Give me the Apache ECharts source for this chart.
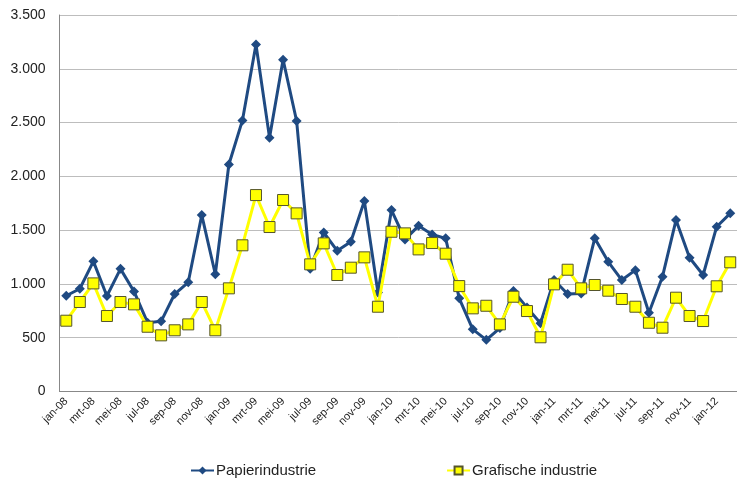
<!DOCTYPE html>
<html><head><meta charset="utf-8">
<script src="https://cdn.jsdelivr.net/npm/echarts@6/dist/echarts.min.js"></script>
<style>html,body{margin:0;padding:0;background:#fff}#c{width:737px;height:483px}</style>
</head><body><div id="c"></div>
<script>
const categories = ['jan-08','feb-08','mrt-08','apr-08','mei-08','jun-08','jul-08','aug-08','sep-08','okt-08','nov-08','dec-08',
'jan-09','feb-09','mrt-09','apr-09','mei-09','jun-09','jul-09','aug-09','sep-09','okt-09','nov-09','dec-09',
'jan-10','feb-10','mrt-10','apr-10','mei-10','jun-10','jul-10','aug-10','sep-10','okt-10','nov-10','dec-10',
'jan-11','feb-11','mrt-11','apr-11','mei-11','jun-11','jul-11','aug-11','sep-11','okt-11','nov-11','dec-11',
'jan-12','feb-12'];
const papierindustrie = [890,955,1210,888,1140,930,640,652,906,1015,1640,1090,
2110,2520,3225,2360,3085,2515,1140,1478,1308,1392,1770,920,
1687,1414,1540,1460,1424,866,578,480,590,934,780,634,
1036,906,912,1424,1206,1036,1128,732,1067,1594,1243,1083,
1532,1656];
const grafischeIndustrie = [658,832,1005,702,832,810,602,522,569,624,832,569,
959,1359,1826,1529,1780,1656,1182,1377,1083,1151,1247,788,
1485,1470,1321,1380,1281,980,773,797,624,881,748,504,
996,1132,959,990,937,860,788,639,593,872,702,655,
978,1201];
const yTicks = [0,500,1000,1500,2000,2500,3000,3500];

const chart = echarts.init(document.getElementById('c'));
const fmt = v => String(v).replace(/\B(?=(\d{3})+(?!\d))/g, '.');
chart.setOption({
  animation:false,
  textStyle:{fontFamily:'Liberation Sans, Arial, sans-serif'},
  grid:{left:59.5,right:-7.5,top:15,bottom:91.5},
  legend:{
    bottom:0,left:185,itemGap:130,itemWidth:23,itemHeight:10,
    textStyle:{fontSize:15,color:'#222',padding:[0,0,0,-3]},
    data:['Papierindustrie','Grafische industrie']
  },
  xAxis:{
    type:'category',data:categories,boundaryGap:true,
    axisLine:{lineStyle:{color:'#888',width:1}},
    axisTick:{interval:1,length:5,lineStyle:{color:'#888'}},
    axisLabel:{interval:1,rotate:45,fontSize:11,color:'#222',margin:8}
  },
  yAxis:{
    type:'value',min:yTicks[0],max:yTicks[yTicks.length-1],interval:500,
    axisLine:{show:true,lineStyle:{color:'#888'}},
    axisTick:{show:false},
    splitLine:{lineStyle:{color:'#bdbdbd',width:1}},
    axisLabel:{fontSize:14,color:'#222',margin:14,formatter:fmt}
  },
  series:[
    {name:'Papierindustrie',type:'line',data:papierindustrie,
     symbol:'diamond',symbolSize:10,showAllSymbol:true,
     lineStyle:{color:'#1f4a82',width:3},
     itemStyle:{color:'#1f4a82'},z:2},
    {name:'Grafische industrie',type:'line',data:grafischeIndustrie,
     symbol:'rect',symbolSize:11,showAllSymbol:true,
     lineStyle:{color:'#ffff00',width:3},
     itemStyle:{color:'#ffff00',borderColor:'#55552a',borderWidth:1},z:3}
  ]
});
</script></body></html>
